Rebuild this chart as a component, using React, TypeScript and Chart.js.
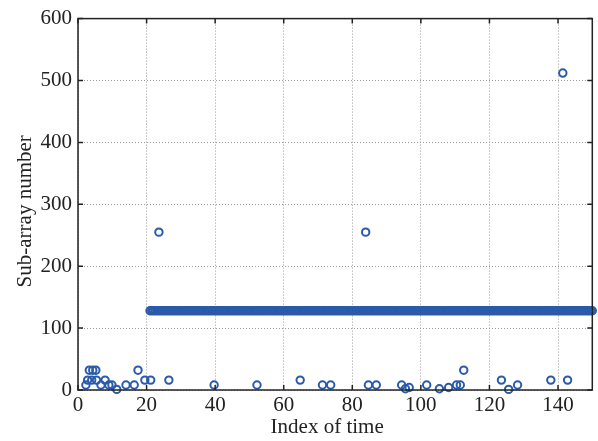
import React, { useEffect, useRef } from "react";
import { Chart, registerables } from "chart.js";

Chart.register(...registerables);

// Sparse low-value samples (index of time, sub-array number)
const lowX = [2.3, 2.8, 3.3, 4.0, 4.3, 5.2, 5.4, 6.7, 7.9, 9.0, 9.9, 11.3, 14.0, 16.4, 17.5, 19.5, 21.2, 26.5, 39.7, 52.2, 64.8, 71.3, 73.7, 84.7, 87.0, 94.4, 95.5, 96.6, 101.7, 105.4, 108.1, 110.4, 111.5, 112.5, 123.5, 125.6, 128.2, 137.9, 142.8];
const lowY = [8, 16, 32, 16, 32, 32, 16, 8, 16, 8, 8, 1, 8, 8, 32, 16, 16, 16, 8, 8, 16, 8, 8, 8, 8, 8, 2, 4, 8, 2, 4, 8, 8, 32, 16, 1, 8, 16, 16];

// Outliers
const highX = [23.6, 83.9, 141.4];
const highY = [255, 255, 512];

// Steady band at sub-array 128 (dense samples)
const bandValue = 128;
const bandX = [21, 22, 23, 24, 25, 26, 27, 28, 29, 30, 31, 32, 33, 34, 35, 36, 37, 38, 39, 40, 41, 42, 43, 44, 45, 46, 47, 48, 49, 50, 51, 52, 53, 54, 55, 56, 57, 58, 59, 60, 61, 62, 63, 64, 65, 66, 67, 68, 69, 70, 71, 72, 73, 74, 75, 76, 77, 78, 79, 80, 81, 82, 83, 84, 85, 86, 87, 88, 89, 90, 91, 92, 93, 94, 95, 96, 97, 98, 99, 100, 101, 102, 103, 104, 105, 106, 107, 108, 109, 110, 111, 112, 113, 114, 115, 116, 117, 118, 119, 120, 121, 122, 123, 124, 125, 126, 127, 128, 129, 130, 131, 132, 133, 134, 135, 136, 137, 138, 139, 140, 141, 142, 143, 144, 145, 146, 147, 148, 149, 150];
const bandXExtra = [21.5, 22.5, 23.5, 24.5, 25.5, 26.5, 27.5, 28.5, 29.5, 30.5, 31.5, 32.5, 33.5, 34.5, 35.5, 36.5, 37.5, 38.5, 39.5, 40.5, 41.5, 42.5, 43.5, 44.5, 45.5, 46.5, 47.5, 48.5, 49.5, 50.5, 51.5, 52.5, 53.5, 54.5, 55.5, 56.5, 57.5, 58.5, 59.5, 60.5, 61.5, 62.5, 63.5, 64.5, 65.5, 66.5, 67.5, 68.5, 69.5, 70.5, 71.5, 72.5, 73.5, 74.5, 75.5, 76.5, 77.5, 78.5, 79.5, 80.5, 81.5, 82.5, 83.5, 84.5, 85.5, 86.5, 87.5, 88.5, 89.5, 90.5, 91.5, 92.5, 93.5, 94.5, 95.5, 96.5, 97.5, 98.5, 99.5, 100.5, 101.5, 102.5, 103.5, 104.5, 105.5, 106.5, 107.5, 108.5, 109.5, 110.5, 111.5, 112.5, 113.5, 114.5, 115.5, 116.5, 117.5, 118.5, 119.5, 120.5, 121.5, 122.5, 123.5, 124.5, 125.5, 126.5, 127.5, 128.5, 129.5, 130.5, 131.5, 132.5, 133.5, 134.5, 135.5, 136.5, 137.5, 138.5, 139.5, 140.5, 141.5, 142.5, 143.5, 144.5, 145.5, 146.5, 147.5, 148.5, 149.5];

const xTickValues = [0, 20, 40, 60, 80, 100, 120, 140];
const xTitle = "Index of time";
const yTitle = "Sub-array number";

const MARK = "#2a5baa";
const AXIS = "#222222";
const FONT = "'Liberation Serif', 'Times New Roman', serif";

export default function App() {
  const ref = useRef<HTMLCanvasElement>(null);

  useEffect(() => {
    if (!ref.current) return;
    const points = [
      ...bandX.map((x) => ({ x, y: bandValue })),
      ...bandXExtra.map((x) => ({ x, y: bandValue })),
      ...lowX.map((x, i) => ({ x, y: lowY[i] })),
      ...highX.map((x, i) => ({ x, y: highY[i] })),
    ];

    const framePlugin = {
      id: "frame",
      afterDraw(chart: any) {
        const { ctx, chartArea: a, scales } = chart;
        ctx.save();
        ctx.strokeStyle = AXIS;
        ctx.lineWidth = 1.5;
        ctx.strokeRect(a.left, a.top, a.right - a.left, a.bottom - a.top);
        const tl = 5;
        ctx.beginPath();
        scales.x.ticks.forEach((t: any) => {
          const px = scales.x.getPixelForValue(t.value);
          ctx.moveTo(px, a.bottom);
          ctx.lineTo(px, a.bottom - tl);
          ctx.moveTo(px, a.top);
          ctx.lineTo(px, a.top + tl);
        });
        scales.y.ticks.forEach((t: any) => {
          const py = scales.y.getPixelForValue(t.value);
          ctx.moveTo(a.left, py);
          ctx.lineTo(a.left + tl, py);
          ctx.moveTo(a.right, py);
          ctx.lineTo(a.right - tl, py);
        });
        ctx.stroke();
        // axis titles
        ctx.fillStyle = AXIS;
        ctx.font = `21px ${FONT}`;
        ctx.textAlign = "center";
        ctx.textBaseline = "middle";
        ctx.fillText(xTitle, (a.left + a.right) / 2 - 8, a.bottom + 37);
        ctx.save();
        ctx.translate(a.left - 53, (a.top + a.bottom) / 2 + 7);
        ctx.rotate(-Math.PI / 2);
        ctx.fillText(yTitle, 0, 0);
        ctx.restore();
        ctx.restore();
      },
    };

    const chart = new Chart(ref.current, {
      type: "scatter",
      data: {
        datasets: [
          {
            data: points,
            pointStyle: "circle",
            pointRadius: 3.7,
            pointHoverRadius: 3.7,
            pointBorderWidth: 2,
            borderColor: MARK,
            backgroundColor: "rgba(0,0,0,0)",
            pointBackgroundColor: "rgba(0,0,0,0)",
            pointBorderColor: MARK,
            clip: false,
          } as any,
        ],
      },
      options: {
        responsive: false,
        animation: false,
        events: [],
        layout: { padding: { top: 16, right: 4, left: 0, bottom: 0 } },
        plugins: { legend: { display: false }, tooltip: { enabled: false } },
        scales: {
          x: {
            type: "linear",
            min: 0,
            max: 150,
            afterBuildTicks: (s: any) => {
              s.ticks = xTickValues.map((v) => ({ value: v }));
            },
            afterFit: (s: any) => {
              s.height = 51;
            },
            ticks: {
              font: { family: FONT, size: 21 },
              color: AXIS,
              padding: 3,
              maxRotation: 0,
            },
            grid: { color: "#9a9a9a", lineWidth: 1, drawTicks: false, borderDash: [1, 2] } as any,
            border: { display: false, dash: [1, 2] },
          },
          y: {
            type: "linear",
            min: 0,
            max: 600,
            ticks: {
              stepSize: 100,
              font: { family: FONT, size: 21 },
              color: AXIS,
              padding: 6,
            },
            afterFit: (s: any) => {
              s.width = 78;
            },
            grid: { color: "#9a9a9a", lineWidth: 1, drawTicks: false, borderDash: [1, 2] } as any,
            border: { display: false, dash: [1, 2] },
          },
        },
      },
      plugins: [framePlugin],
    });
    return () => chart.destroy();
  }, []);

  return (
    <div style={{ position: "fixed", left: 0, top: 0, width: 598, height: 441, background: "#fff" }}>
      <canvas ref={ref} width={598} height={441} style={{ width: 598, height: 441, display: "block" }} />
    </div>
  );
}
